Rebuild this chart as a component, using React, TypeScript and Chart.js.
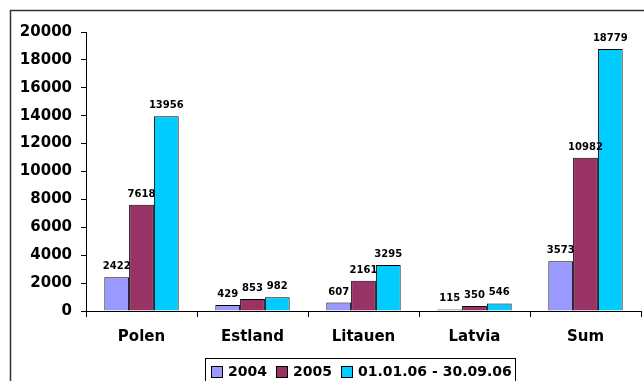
import React, { useEffect, useRef } from "react";
import { Chart, registerables } from "chart.js";

Chart.register(...registerables);

const categories = ["Polen", "Estland", "Litauen", "Latvia", "Sum"];
const series2004 = [2422, 429, 607, 115, 3573];
const series2005 = [7618, 853, 2161, 350, 10982];
const series2006 = [13956, 982, 3295, 546, 18779];
const seriesLabels = ["2004", "2005", "01.01.06 - 30.09.06"];
const seriesColors = ["#9999FF", "#993366", "#00CCFF"];

const FONT = "'DejaVu Sans', Arial, sans-serif";

const decorPlugin = {
  id: "decor",
  beforeDraw(chart: any) {
    const ctx = chart.ctx;
    ctx.save();
    ctx.fillStyle = "#ffffff";
    ctx.fillRect(0, 0, chart.width, chart.height);
    ctx.strokeStyle = "#333333";
    ctx.lineWidth = 1.5;
    ctx.beginPath();
    ctx.moveTo(10.5, chart.height + 5);
    ctx.lineTo(10.5, 10.5);
    ctx.lineTo(chart.width + 5, 10.5);
    ctx.stroke();
    ctx.restore();
  },
  afterDatasetsDraw(chart: any) {
    const ctx = chart.ctx;
    ctx.save();
    // value labels
    ctx.font = `bold 10px ${FONT}`;
    ctx.fillStyle = "#000";
    ctx.textAlign = "center";
    ctx.textBaseline = "alphabetic";
    chart.data.datasets.forEach((ds: any, i: number) => {
      const meta = chart.getDatasetMeta(i);
      meta.data.forEach((bar: any, j: number) => {
        ctx.fillText(String(ds.data[j]), bar.x, bar.y - 8);
      });
    });
    // legend
    const lx = 205.5, ly = 358.5, lw = 310, lh = 40;
    ctx.strokeStyle = "#000";
    ctx.lineWidth = 1;
    ctx.strokeRect(lx, ly, lw, lh);
    const items = [
      { box: 211, text: 228 },
      { box: 276, text: 293 },
      { box: 341, text: 358 },
    ];
    ctx.font = `bold 14px ${FONT}`;
    ctx.textAlign = "left";
    ctx.textBaseline = "middle";
    items.forEach((it, k) => {
      ctx.fillStyle = seriesColors[k];
      ctx.fillRect(it.box + 0.5, 366.5, 11, 11);
      ctx.strokeStyle = "#000";
      ctx.strokeRect(it.box + 0.5, 366.5, 11, 11);
      ctx.fillStyle = "#000";
      ctx.fillText(seriesLabels[k], it.text, 372.5);
    });
    ctx.restore();
  },
};

export default function App() {
  const ref = useRef<HTMLCanvasElement>(null);
  useEffect(() => {
    document.body.style.margin = "0";
    const chart = new Chart(ref.current as HTMLCanvasElement, {
      type: "bar",
      data: {
        labels: categories,
        datasets: [series2004, series2005, series2006].map((d, i) => ({
          label: seriesLabels[i],
          data: d,
          backgroundColor: seriesColors[i],
          borderColor: "#000000",
          borderWidth: 1,
          categoryPercentage: 0.67,
          barPercentage: 1,
        })),
      },
      options: {
        responsive: false,
        animation: false,
        layout: { padding: { left: 0, top: 32, right: 3, bottom: 0 } },
        plugins: { legend: { display: false }, tooltip: { enabled: false } },
        scales: {
          x: {
            grid: {
              drawOnChartArea: false,
              offset: true,
              color: "#000",
              tickLength: 6,
            },
            border: { color: "#000", width: 1 },
            ticks: {
              color: "#000",
              font: { family: FONT, size: 15, weight: "bold" },
              padding: 11,
              maxRotation: 0,
            },
            afterFit(scale: any) {
              scale.height = 70;
            },
          },
          y: {
            min: 0,
            max: 20000,
            ticks: {
              stepSize: 2000,
              color: "#000",
              font: { family: FONT, size: 15, weight: "bold" },
              padding: 9,
              callback: (v: any) => String(v),
            },
            grid: {
              drawOnChartArea: false,
              color: "#000",
              tickLength: 5,
            },
            border: { color: "#000", width: 1 },
            afterFit(scale: any) {
              scale.width = 86;
            },
          },
        },
      },
      plugins: [decorPlugin],
    });
    return () => chart.destroy();
  }, []);
  return (
    <div style={{ width: 644, height: 381 }}>
      <canvas ref={ref} width={644} height={381} style={{ display: "block" }} />
    </div>
  );
}
